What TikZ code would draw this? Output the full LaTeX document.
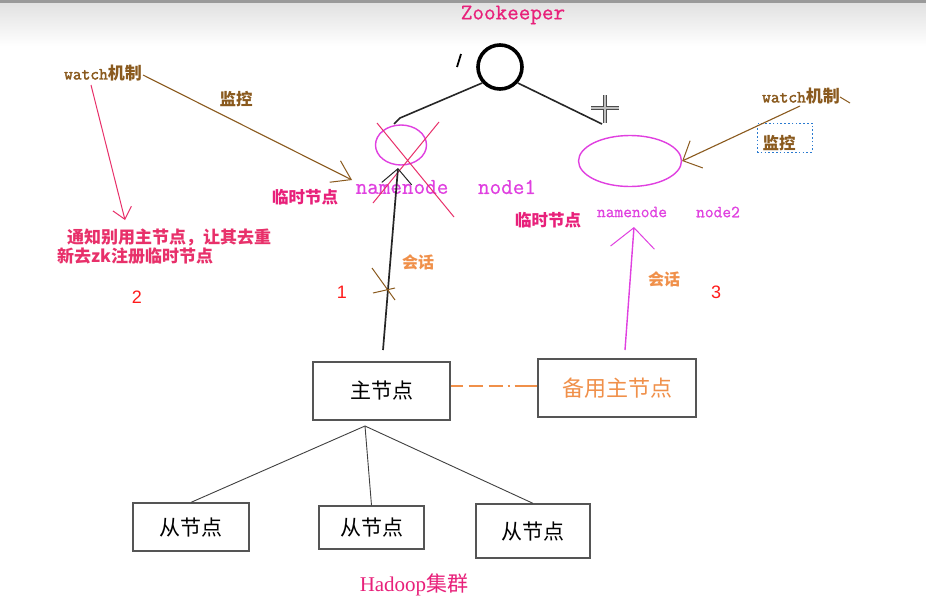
\documentclass[tikz,border=0pt]{standalone}
\usepackage{fontspec}
\setmainfont{Liberation Serif}
\newfontfamily\cjk{Noto Sans CJK SC}
\newfontfamily\numfont{Liberation Sans}
\newfontfamily\monof{Latin Modern Mono}[FakeBold=0.7]
\newfontfamily\monofb{Latin Modern Mono}[FakeBold=2]
\usetikzlibrary{arrows.meta,shapes.geometric}
\definecolor{mag}{HTML}{E040E0}
\definecolor{pinkr}{HTML}{E8207A}
\definecolor{brn}{HTML}{8A5A1E}
\definecolor{orng}{HTML}{F0904A}
\definecolor{redn}{HTML}{FF1A1A}
\definecolor{boxgray}{HTML}{555555}
\definecolor{xred}{HTML}{E8306A}
\definecolor{dotblue}{HTML}{2A7AD0}
\begin{document}
\begin{tikzpicture}[x=1pt,y=-1pt,
  box/.style={draw=boxgray, line width=1.3pt, inner sep=0pt, fill=white},
  lbl/.style={inner sep=0pt, anchor=center},
  vbarb/.style 2 args={-{Straight Barb[length=#1pt, width=#2pt, line width=1pt]}},
  link/.style={draw=black!75, line width=0.9pt}
]
\useasboundingbox (0,0) rectangle (926,603);
\fill[white] (0,0) rectangle (926,603);
\shade[top color=black!12, bottom color=white] (0,2) rectangle (926,46);
\fill[black!40] (0,0) rectangle (926,2.5);

% zookeeper root
\node[lbl, text=pinkr, font=\monof\fontsize{22.5}{22.5}\selectfont] (zkt) at (513,15) {Zookeeper};
\node[circle, draw=black, line width=3.6pt, minimum size=44pt, inner sep=0pt] (zk) at (500,67) {};
\coordinate (sl1) at (457,67);
\coordinate (sl2) at (461,54);
\draw[line width=1.8pt] (sl1) -- (sl2);
\coordinate (b1) at (400,118);
\coordinate (b1e) at (394,124);
\draw[line width=1.6pt, black!85] (zk.222) -- (b1) -- (b1e);
\coordinate (b2) at (602,124);
\draw[line width=1.6pt, black!85] (zk.318) -- (b2);
% cursor plus
\coordinate (ph1) at (591,108); \coordinate (ph2) at (619,108);
\coordinate (pv1) at (605,95); \coordinate (pv2) at (605,123);
\draw[line width=4.2pt, black!70] (ph1) -- (ph2) (pv1) -- (pv2);
\draw[line width=1.8pt, black!25] (ph1) -- (ph2) (pv1) -- (pv2);

% left ephemeral node (crossed)
\node[ellipse, draw=mag, line width=1.4pt, minimum width=51pt, minimum height=40pt, inner sep=0pt] (e1) at (401,145) {};
\node[lbl, text=mag, font=\monof\fontsize{22.5}{22.5}\selectfont] (nn1) at (402,187) {namenode};
\node[lbl, text=mag, font=\monof\fontsize{22.5}{22.5}\selectfont] (n1) at (507,187) {node1};
\node[lbl, text=pinkr, font=\cjk\bfseries\fontsize{16.5}{16.5}\selectfont] (ls1) at (305,197) {临时节点};
\coordinate (x1a) at (377,123); \coordinate (x1b) at (454,217);
\coordinate (x2a) at (439,122); \coordinate (x2b) at (373,203);
\draw[xred, line width=1pt] (x1a) -- (x1b) (x2a) -- (x2b);

% right ephemeral node
\node[ellipse, draw=mag, line width=1.4pt, minimum width=103pt, minimum height=51pt, inner sep=0pt] (e2) at (630,161) {};
\node[lbl, text=mag, font=\monof\fontsize{17}{17}\selectfont] (nn2) at (632,212) {namenode};
\node[lbl, text=mag, font=\monof\fontsize{17}{17}\selectfont] (n2) at (718,212) {node2};
\node[lbl, text=pinkr, font=\cjk\bfseries\fontsize{16.5}{16.5}\selectfont] (ls2) at (548,220) {临时节点};

% left watch
\node[lbl, text=brn, font=\fontsize{17}{17}\selectfont] (w1) at (103,73) {{\monofb watch}{\cjk\bfseries 机制}};
\node[lbl, text=brn, font=\cjk\bfseries\fontsize{16.5}{16.5}\selectfont] (m1) at (236,99) {监控};
\coordinate (w1s) at (143,75);
\coordinate (w1t) at (352,180);
\draw[brn, line width=1.1pt, vbarb={18}{24}] (w1s) -- (w1t);
\coordinate (p1s) at (91,85);
\coordinate (p1t) at (125,220);
\draw[xred, line width=1pt, vbarb={11}{19}] (p1s) -- (p1t);
\node[lbl, text=xred, font=\cjk\bfseries\fontsize{17}{17}\selectfont, align=left, anchor=north west] (note) at (57,229) {\hspace*{10pt}通知别用主节点，让其去重\\新去zk注册临时节点};
\node[lbl, text=redn, font=\numfont\fontsize{18}{18}\selectfont] (num2) at (137,297) {2};

% right watch
\node[lbl, text=brn, font=\fontsize{17}{17}\selectfont] (w2) at (801,96) {{\monofb watch}{\cjk\bfseries 机制}};
\coordinate (w2h1) at (840,97); \coordinate (w2h2) at (850,103);
\draw[brn, line width=1pt] (w2h1) -- (w2h2);
\node[draw=dotblue, dash pattern=on 1.6pt off 2.2pt, line width=1pt, minimum width=55pt, minimum height=29pt, inner sep=0pt] (m2box) at (784.5,137.5) {};
\node[lbl, text=brn, font=\cjk\bfseries\fontsize{16.5}{16.5}\selectfont] (m2) at (779,143) {监控};
\coordinate (w2s) at (800,106);
\draw[brn, line width=1.1pt, vbarb={15}{30}] (w2s) -- (e2.east);

% master and standby
\node[box, minimum width=137pt, minimum height=58pt, font=\cjk\fontsize{21}{21}\selectfont] (main) at (381.5,391) {主节点\hspace{20pt}};
\node[box, minimum width=158pt, minimum height=58pt, text=orng, font=\cjk\fontsize{22}{22}\selectfont] (stby) at (617,388) {备用主节点\hspace{11pt}};
\draw[orng, line width=1.1pt, dash pattern=on 12pt off 6pt on 14pt off 6pt on 14pt off 5pt on 2pt off 5pt on 30pt off 2pt] (main.east |- 0,386) -- (stby.west |- 0,386);

% sessions
\coordinate (s1) at (383,350);
\coordinate (s1t) at (398,168);
\draw[black!85, line width=1.7pt, vbarb={15}{30}] (s1) -- (s1t);
\coordinate (c1a) at (372,268); \coordinate (c1b) at (395,300);
\coordinate (c2a) at (373,293); \coordinate (c2b) at (395,288);
\draw[brn, line width=1pt] (c1a) -- (c1b) (c2a) -- (c2b);
\node[lbl, text=orng, font=\cjk\bfseries\fontsize{16}{16}\selectfont] (hh1) at (418,262) {会话};
\node[lbl, text=redn, font=\numfont\fontsize{18}{18}\selectfont] (num1) at (342,292) {1};

\coordinate (s2) at (625,350);
\coordinate (s2t) at (634,227);
\draw[mag, line width=1.4pt, vbarb={20}{44}] (s2) -- (s2t);
\node[lbl, text=orng, font=\cjk\bfseries\fontsize{16}{16}\selectfont] (hh2) at (664,279) {会话};
\node[lbl, text=redn, font=\numfont\fontsize{18}{18}\selectfont] (num3) at (716,292) {3};

% slaves
\node[box, minimum width=116pt, minimum height=48pt, font=\cjk\fontsize{21}{21}\selectfont] (sa) at (191,527) {从节点};
\node[box, minimum width=105pt, minimum height=43pt, font=\cjk\fontsize{21}{21}\selectfont] (sb) at (371.5,527.5) {从节点};
\node[box, minimum width=114pt, minimum height=54pt, font=\cjk\fontsize{21}{21}\selectfont] (sc) at (533,531) {从节点};
\coordinate (hub) at (365,426);
\draw[link] (hub) -- (sa.north);
\draw[link] (hub) -- (sb.north);
\draw[link] (hub) -- (sc.north);

\node[lbl, text=pinkr, font=\fontsize{21}{21}\selectfont] (hd) at (414,585) {Hadoop{\cjk 集群}};
\end{tikzpicture}
\end{document}
